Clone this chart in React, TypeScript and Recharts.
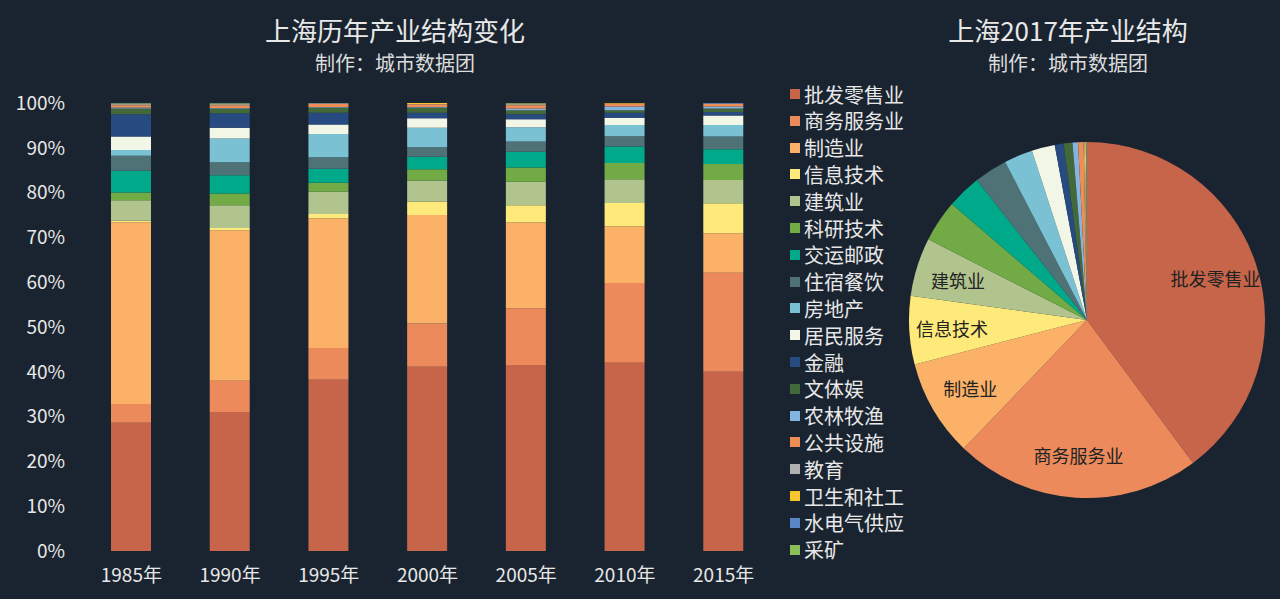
import { Bar, BarChart, Cell, Pie, PieChart, XAxis, YAxis } from "recharts";

const BG = '#1a2430';
const FONT = '"Noto Sans CJK SC", "Noto Sans", sans-serif';
const TEXT = '#e8e8e8';

const YEARS = ['1985年', '1990年', '1995年', '2000年', '2005年', '2010年', '2015年'];

const INDUSTRIES = [
  '批发零售业', '商务服务业', '制造业', '信息技术', '建筑业', '科研技术',
  '交运邮政', '住宿餐饮', '房地产', '居民服务', '金融', '文体娱',
  '农林牧渔', '公共设施', '教育', '卫生和社工', '水电气供应', '采矿',
];

const COLORS = [
  '#c6654a', '#ec8a5c', '#fcb168', '#feea7a', '#b1c48e', '#72ab46',
  '#00a98a', '#4e7276', '#79c1d3', '#f2f6e6', '#274a80', '#43693a',
  '#84b4e0', '#ee8d55', '#b0b0b0', '#f8c52c', '#5b86c6', '#8bbf5a',
];

// share (%) per industry, same order as INDUSTRIES
const SHARE_1985 = [28.6, 4.2, 40.6, 0.3, 4.6, 1.7, 4.9, 3.3, 1.3, 3.0, 5.0, 1.3, 0.2, 0.5, 0.2, 0.1, 0.1, 0.1];
const SHARE_1990 = [31.0, 7.0, 33.6, 0.5, 5.1, 2.6, 4.1, 2.9, 5.3, 2.4, 3.2, 1.1, 0.1, 0.6, 0.2, 0.1, 0.1, 0.1];
const SHARE_1995 = [38.2, 7.1, 29.0, 0.9, 5.0, 2.0, 3.1, 2.6, 5.2, 2.1, 2.6, 1.2, 0.1, 0.7, 0.1, 0.05, 0.05, 0.0];
const SHARE_2000 = [41.1, 9.7, 24.2, 3.0, 4.7, 2.5, 2.8, 2.1, 4.4, 2.1, 1.2, 1.2, 0.1, 0.6, 0.1, 0.2, 0.0, 0.0];
const SHARE_2005 = [41.5, 12.7, 19.1, 3.9, 5.2, 3.2, 3.5, 2.3, 3.2, 1.8, 1.1, 0.9, 0.4, 0.7, 0.2, 0.2, 0.05, 0.05];
const SHARE_2010 = [42.0, 17.8, 12.7, 5.2, 5.3, 3.6, 3.7, 2.3, 2.5, 1.6, 1.1, 0.6, 0.8, 0.7, 0.0, 0.1, 0.0, 0.0];
const SHARE_2015 = [40.0, 22.1, 8.8, 6.7, 5.2, 3.6, 3.3, 2.8, 2.6, 2.1, 0.8, 0.8, 0.4, 0.6, 0.1, 0.0, 0.1, 0.0];
const SHARES = [SHARE_1985, SHARE_1990, SHARE_1995, SHARE_2000, SHARE_2005, SHARE_2010, SHARE_2015];

const SHARE_2017 = [39.8, 22.3, 8.8, 6.2, 5.3, 3.8, 3.1, 3.0, 2.6, 2.1, 0.8, 0.8, 0.5, 0.5, 0.1, 0.1, 0.05, 0.05];

const Y_TICKS = [0, 0.1, 0.2, 0.3, 0.4, 0.5, 0.6, 0.7, 0.8, 0.9, 1];

const barData = YEARS.map((year, i) => {
  const row: Record<string, string | number> = { year };
  INDUSTRIES.forEach((name, j) => { row[name] = SHARES[i][j]; });
  return row;
});

const pieData = INDUSTRIES.map((name, j) => ({ name, value: SHARE_2017[j] }));

const RAD = Math.PI / 180;
const renderPieLabel = (props: any) => {
  const { cx, cy, midAngle, outerRadius, percent, name } = props;
  if (percent < 0.05) return null;
  const r = outerRadius * 0.76;
  const x = cx + r * Math.cos(-midAngle * RAD);
  const y = cy + r * Math.sin(-midAngle * RAD);
  return (
    <text x={x} y={y} fill="#222" fontSize={18} fontFamily={FONT} textAnchor="middle" dominantBaseline="central">
      {name}
    </text>
  );
};

const tickStyle = { fill: TEXT, fontSize: 19, fontFamily: FONT };

const Title = ({ x, title, sub }: { x: number; title: string; sub: string }) => (
  <>
    <div style={{ position: 'absolute', left: x - 200, top: 14, width: 400, textAlign: 'center', fontSize: 26, lineHeight: '32px', color: TEXT }}>
      {title}
    </div>
    <div style={{ position: 'absolute', left: x - 200, top: 50, width: 400, textAlign: 'center', fontSize: 20, lineHeight: '26px', color: '#dcdcdc' }}>
      {sub}
    </div>
  </>
);

export default function App() {
  return (
    <div style={{ position: 'absolute', left: 0, top: 0, width: 1280, height: 599, background: BG, fontFamily: FONT, overflow: 'hidden' }}>
      <Title x={395} title="上海历年产业结构变化" sub="制作：城市数据团" />
      <Title x={1068} title="上海2017年产业结构" sub="制作：城市数据团" />

      <div style={{ position: 'absolute', left: 0, top: 0 }}>
        <BarChart width={790} height={599} data={barData} stackOffset="expand" margin={{ top: 103, right: 17, bottom: 18, left: 0 }}>
          <XAxis dataKey="year" axisLine={false} tickLine={false} tickSize={0} tickMargin={18} height={30} tick={tickStyle} interval={0} />
          <YAxis width={82} domain={[0, 1]} ticks={Y_TICKS} axisLine={false} tickLine={false} tickSize={0} tickMargin={17}
            tickFormatter={(v: number) => `${Math.round(v * 100)}%`} tick={tickStyle} />
          {INDUSTRIES.map((name, j) => (
            <Bar key={name} dataKey={name} stackId="s" fill={COLORS[j]} barSize={40} isAnimationActive={false} />
          ))}
        </BarChart>
      </div>

      {INDUSTRIES.map((name, j) => (
        <div key={name} style={{ position: 'absolute', left: 790, top: 81 + j * 26.8, height: 26, display: 'flex', alignItems: 'center', color: TEXT, fontSize: 20 }}>
          <span style={{ width: 10, height: 10, background: COLORS[j], marginRight: 4, display: 'inline-block' }} />
          {name}
        </div>
      ))}

      <div style={{ position: 'absolute', left: 890, top: 0 }}>
        <PieChart width={390} height={599} margin={{ top: 0, right: 0, bottom: 0, left: 0 }}>
          <Pie data={pieData} dataKey="value" nameKey="name" cx={197} cy={320} outerRadius={178} startAngle={90} endAngle={-270}
            stroke="none" labelLine={false} label={renderPieLabel} isAnimationActive={false}>
            {pieData.map((d, j) => <Cell key={d.name} fill={COLORS[j]} />)}
          </Pie>
        </PieChart>
      </div>
    </div>
  );
}
